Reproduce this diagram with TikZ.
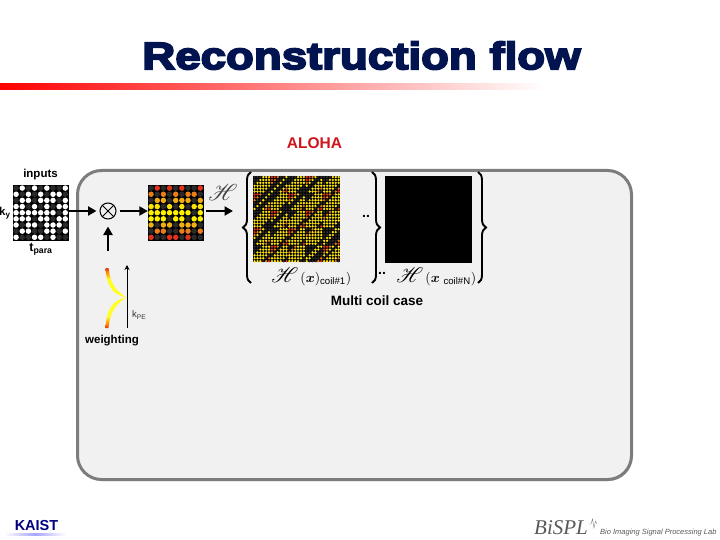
\documentclass[tikz,border=0pt]{standalone}
\usepackage{amsmath,bm}
\usepackage{mathrsfs}
\usepackage{graphicx}
\usepackage{fontspec}
\setmainfont{Liberation Sans}
\newfontfamily\titlefont[FakeBold=5,FakeStretch=1.2]{Liberation Sans Bold}
\newfontfamily\logoserif{Liberation Serif}
\usetikzlibrary{calc,positioning,arrows.meta,decorations.pathreplacing,shadows}
\definecolor{AlohaRed}{RGB}{208,18,27}
\definecolor{TitleNavy}{RGB}{2,20,80}
\definecolor{PanelGray}{RGB}{241,241,241}
\definecolor{PanelEdge}{RGB}{125,125,125}
\definecolor{OffDot}{RGB}{42,42,42}
\definecolor{dotrow0}{RGB}{225,50,30}
\definecolor{dotrow1}{RGB}{232,125,25}
\definecolor{dotrow2}{RGB}{240,170,20}
\definecolor{dotrow3}{RGB}{250,225,10}
\definecolor{dotrow4}{RGB}{255,240,0}
\definecolor{dotrow5}{RGB}{255,240,0}
\definecolor{dotrow6}{RGB}{240,175,20}
\definecolor{dotrow7}{RGB}{232,125,25}
\definecolor{dotrow8}{RGB}{225,50,30}
\pgfdeclareverticalshading{weightup}{100bp}{color(0bp)=(yellow!85!white); color(56bp)=(yellow!85!white); color(69bp)=(orange); color(75bp)=(dotrow0); color(100bp)=(dotrow0)}
\pgfdeclareverticalshading{weightdown}{100bp}{color(0bp)=(dotrow0); color(25bp)=(dotrow0); color(31bp)=(orange); color(44bp)=(yellow!85!white); color(100bp)=(yellow!85!white)}
\def\inputmask{{0,1,0,1,0,1,0,0,1,1,0,1,0,1,0,1,1,0,0,1,1,0,1,1,1,0,1,1,1,0,1,0,1,0,1,1,1,1,1,1,1,1,1,0,1,1,1,1,0,1,1,0,1,1,1,0,1,1,0,1,1,1,0,0,1,1,0,0,1,1,0,1,1,0,0,1,1,0,1,0,0}}
\tikzset{
  lab/.style={font=\bfseries\fontsize{11.5}{13}\selectfont,inner sep=0pt},
  imgbox/.style={fill=black,inner sep=0pt,minimum width=#1,minimum height=#1},
  flow/.style={line width=2.4pt,-{Triangle[length=8.5pt,width=9pt]}},
  bigbrace/.style={decorate,decoration={brace,amplitude=8pt},line width=1.9pt},
}
\begin{document}
\begin{tikzpicture}[x=1pt,y=-1pt]
\useasboundingbox (0,0) rectangle (720,540);
% title
\node[font=\titlefont\fontsize{38}{42}\selectfont,text=TitleNavy,inner sep=0pt] (title) at (361.5,55.5) {Reconstruction flow};
\shade[left color=red,right color=white] (0,84) rectangle (545,90);
\node[font=\bfseries\fontsize{15.5}{17}\selectfont,text=AlohaRed,inner sep=0pt] (aloha) at (314.5,143.5) {ALOHA};
% panel
\draw[fill=PanelGray,draw=PanelEdge,line width=3pt,rounded corners=24pt,drop shadow={shadow xshift=1pt,shadow yshift=-1.5pt,fill=gray,opacity=0.6}] (77.5,170.5) rectangle (631.5,479.5);
% images
\node[imgbox=56pt] (input) at (41,213) {};
\node[imgbox=56pt] (weighted) at (176,213) {};
\node[imgbox=86.5pt] (coilone) at (296.5,219) {};
\node[imgbox=86.5pt] (coiln) at (428.5,219.5) {};
\foreach \r in {0,...,8}{\foreach \c in {0,...,8}{
  \pgfmathtruncatemacro\on{\inputmask[\r*9+\c]}
  \ifnum\on=1
    \fill[white] ($(input.north west)+(3.3+6.15*\c,3.3+6.15*\r)$) circle (2.75);
    \fill[dotrow\r] ($(weighted.north west)+(3.3+6.15*\c,3.3+6.15*\r)$) circle (2.75);
  \else
    \fill[OffDot] ($(input.north west)+(3.3+6.15*\c,3.3+6.15*\r)$) circle (2.75);
    \fill[OffDot] ($(weighted.north west)+(3.3+6.15*\c,3.3+6.15*\r)$) circle (2.75);
  \fi
}}
\foreach \i in {0,...,29}{\foreach \j in {0,...,29}{
  \pgfmathtruncatemacro\rr{min(8,floor((mod(\i,6)+mod(\j,6))*0.85))}
  \pgfmathtruncatemacro\cc{mod(floor(\i/6)+floor(\j/6)+\rr,9)}
  \pgfmathtruncatemacro\on{\inputmask[\rr*9+\cc]}
  \ifnum\on=1
    \pgfmathtruncatemacro\tint{(\rr>1 && \rr<7) ? 3 : \rr}
    \fill[dotrow\tint] ($(coilone.north west)+(1.5+2.9*\j,1.5+2.9*\i)$) circle (1.3);
  \else
    \fill[OffDot] ($(coilone.north west)+(1.5+2.9*\j,1.5+2.9*\i)$) circle (1.3);
  \fi
}}
% multiply and arrows
\node[circle,draw,line width=1pt,minimum size=16pt,inner sep=0pt] (cross) at (108,211) {};
\draw[line width=1pt] (cross.north west)--(cross.south east) (cross.north east)--(cross.south west);
\coordinate (afterH) at (233,211);\coordinate (weightout) at (108,251);
\coordinate (kbot) at (127,328);\coordinate (ktop) at (127,265);
\draw[flow,shorten >=3pt] (input.east|-cross) -- (cross.west);
\draw[flow,shorten <=3pt] (cross.east) -- (weighted.west|-cross);
\draw[flow,shorten <=2pt] (weighted.east|-cross) -- (afterH);
\draw[flow,shorten >=7pt] (weightout) -- (cross.south);
\draw[line width=0.9pt,-{Stealth[length=5pt,width=5pt]}] (kbot) -- (ktop);
% weighting curves
\shade[shading=weightup] (105.5,268) .. controls (106.5,285) and (112,295) .. (126.5,297.5) .. controls (116,291) and (110,283) .. (108.5,268) -- cycle;
\shade[shading=weightdown] (105.5,328) .. controls (106.5,310) and (112,300) .. (126.5,297.5) .. controls (116,304) and (110,312) .. (108.5,328) -- cycle;
% braces
\coordinate (ba) at (251,283);\coordinate (bb) at (251,172);
\coordinate (bc) at (372,172);\coordinate (bd) at (372,283);
\coordinate (be) at (478,172);\coordinate (bf) at (478,283);
\draw[bigbrace] (ba) -- (bb);
\draw[bigbrace] (bc) -- (bd);
\draw[bigbrace] (be) -- (bf);
% labels
\node[lab] (inputs) at (40.5,175) {inputs};
\node[lab,anchor=west] (ky) at (-1,213) {k\textsubscript{y}};
\node[lab,anchor=north,font=\bfseries\fontsize{12.5}{14}\selectfont] (tpara) at (41,243) {t\textsubscript{para}};
\node[lab] (weighting) at (112,340.5) {weighting};
\node[font=\fontsize{9.5}{11}\selectfont,inner sep=0pt,anchor=west,text=black!80] (kpe) at (132,315) {k\textsubscript{PE}};
\node[text=black!75,inner sep=0pt,scale=2.3] (hop) at (223,192) {$\mathscr{H}$};
\node[anchor=west,inner sep=0pt,scale=1.37] (hcoilone) at (271,277) {\scalebox{1.55}{$\mathscr{H}$}\,$(\bm{x})$\textsubscript{coil\#1}$)$};
\node[anchor=west,inner sep=0pt,scale=1.37] (hcoiln) at (396,277) {\scalebox{1.55}{$\mathscr{H}$}\,$(\bm{x}$ \textsubscript{coil\#N}$)$};
\node[lab,font=\bfseries\fontsize{13.5}{15}\selectfont] (multi) at (377,301) {Multi coil case};
\node[lab,font=\bfseries\fontsize{14}{15}\selectfont] (dotsa) at (366,216) {..};
\node[lab,font=\bfseries\fontsize{14}{15}\selectfont] (dotsb) at (382,273) {..};
% footer
\node[font=\bfseries\fontsize{14.5}{16}\selectfont,text=blue!50!black,inner sep=0pt] (kaist) at (36.5,525.5) {KAIST};
\shade[left color=white,right color=white,middle color=blue!35] (4,533.5) rectangle (66,535.5);
\node[font=\logoserif\itshape\fontsize{21}{23}\selectfont,text=black!65,inner sep=0pt,anchor=west] (bispl) at (534,528) {BiSPL};
\draw[black!50,line width=0.4pt] (589,524) -- (591,524) -- (592.5,519) -- (594,528) -- (595.5,521) -- (597,524);
\node[font=\itshape\fontsize{7.5}{9}\selectfont,text=black!65,inner sep=0pt,anchor=west] (labname) at (600,532.5) {Bio Imaging Signal Processing Lab};
\end{tikzpicture}
\end{document}
